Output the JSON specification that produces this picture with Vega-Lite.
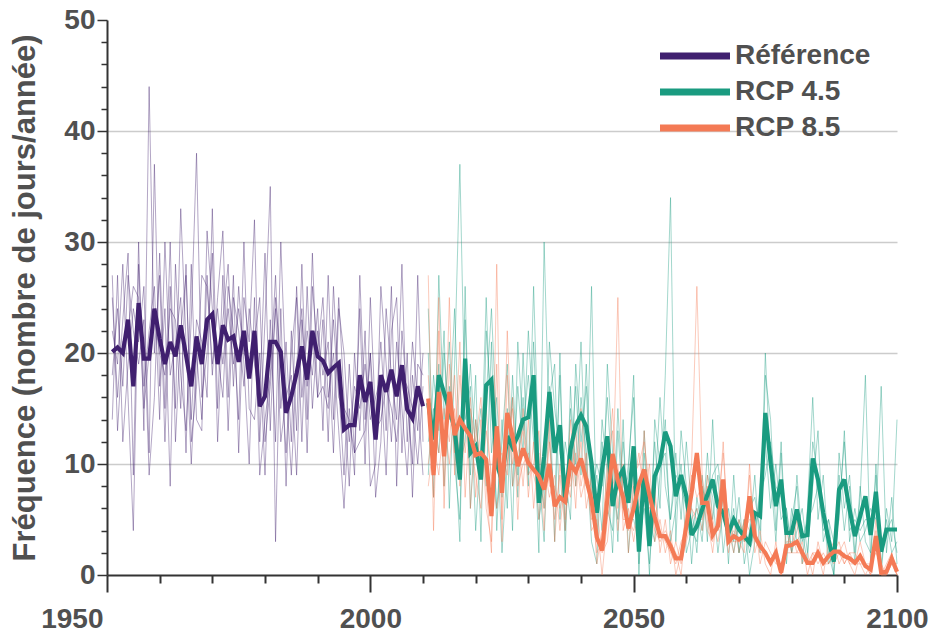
{
"$schema":"https://vega.github.io/schema/vega-lite/v6.json",
"width":790,"height":555,
"autosize":{"type":"none"},
"padding":{"left":107,"top":20,"right":33,"bottom":57},
"background":"white",
"config":{"view":{"stroke":null},"font":"Liberation Sans","line":{"strokeJoin":"miter","strokeMiterLimit":3},"axis":{"labelOverlap":false}},
"datasets":{
"mean":[
{"year":1951,"r":20.1},{"year":1952,"r":20.5},{"year":1953,"r":20},{"year":1954,"r":23},{"year":1955,"r":17},{"year":1956,"r":24.5},{"year":1957,"r":19.5},{"year":1958,"r":19.5},{"year":1959,"r":24},{"year":1960,"r":21.3},
{"year":1961,"r":19},{"year":1962,"r":21},{"year":1963,"r":19.7},{"year":1964,"r":22.5},{"year":1965,"r":19.8},{"year":1966,"r":17},{"year":1967,"r":21.5},{"year":1968,"r":19},{"year":1969,"r":23},{"year":1970,"r":23.5},
{"year":1971,"r":19},{"year":1972,"r":22.5},{"year":1973,"r":21.2},{"year":1974,"r":21.5},{"year":1975,"r":19.2},{"year":1976,"r":22},{"year":1977,"r":17.7},{"year":1978,"r":22},{"year":1979,"r":15.2},{"year":1980,"r":16.1},
{"year":1981,"r":21},{"year":1982,"r":21},{"year":1983,"r":20.1},{"year":1984,"r":14.6},{"year":1985,"r":16.1},{"year":1986,"r":18.2},{"year":1987,"r":20.6},{"year":1988,"r":17.6},{"year":1989,"r":22},{"year":1990,"r":19.7},
{"year":1991,"r":19.3},{"year":1992,"r":18.2},{"year":1993,"r":18.7},{"year":1994,"r":19.1},{"year":1995,"r":13.1},{"year":1996,"r":13.5},{"year":1997,"r":13.5},{"year":1998,"r":18},{"year":1999,"r":15.6},{"year":2000,"r":17.4},
{"year":2001,"r":12.2},{"year":2002,"r":18},{"year":2003,"r":16.5},{"year":2004,"r":18.5},{"year":2005,"r":16.1},{"year":2006,"r":18.9},{"year":2007,"r":14.9},{"year":2008,"r":14.1},{"year":2009,"r":17},{"year":2010,"r":15.2},
{"year":2011,"g":15.5,"o":15.9},{"year":2012,"g":12.2,"o":9},{"year":2013,"g":18,"o":16.5},{"year":2014,"g":16.4,"o":10.7},{"year":2015,"g":14.9,"o":16.5},{"year":2016,"g":13.2,"o":12.6},{"year":2017,"g":8.6,"o":14},{"year":2018,"g":19.5,"o":13.2},{"year":2019,"g":11,"o":12.5},{"year":2020,"g":11.6,"o":10.8},
{"year":2021,"g":8.6,"o":11},{"year":2022,"g":17.1,"o":10.4},{"year":2023,"g":17.6,"o":5.3},{"year":2024,"g":10,"o":13.4},{"year":2025,"g":8.5,"o":7.4},{"year":2026,"g":12.5,"o":14.6},{"year":2027,"g":11.5,"o":12.5},{"year":2028,"g":12.5,"o":9.8},{"year":2029,"g":14,"o":11.4},{"year":2030,"g":14.2,"o":10.1},
{"year":2031,"g":18,"o":9.5},{"year":2032,"g":6.5,"o":8.9},{"year":2033,"g":10.7,"o":7.7},{"year":2034,"g":16.5,"o":10},{"year":2035,"g":11,"o":6.2},{"year":2036,"g":13.5,"o":7},{"year":2037,"g":6.5,"o":6.6},{"year":2038,"g":11.3,"o":10},{"year":2039,"g":13.5,"o":9.3},{"year":2040,"g":14.4,"o":10.5},
{"year":2041,"g":13.4,"o":8.6},{"year":2042,"g":10.1,"o":6.7},{"year":2043,"g":5.6,"o":3.4},{"year":2044,"g":9.5,"o":2.2},{"year":2045,"g":12.5,"o":6.8},{"year":2046,"g":6.2,"o":10.9},{"year":2047,"g":8.7,"o":8.5},{"year":2048,"g":9.5,"o":7},{"year":2049,"g":6.5,"o":4.2},{"year":2050,"g":11.6,"o":6},
{"year":2051,"g":2.1,"o":8.2},{"year":2052,"g":9.5,"o":9.5},{"year":2053,"g":2.6,"o":7.2},{"year":2054,"g":8.9,"o":5.2},{"year":2055,"g":10.1,"o":3.5},{"year":2056,"g":12.9,"o":3.5},{"year":2057,"g":11.6,"o":2.6},{"year":2058,"g":7.1,"o":1.5},{"year":2059,"g":9,"o":1.5},{"year":2060,"g":7.1,"o":4.4},
{"year":2061,"g":3.6,"o":7.4},{"year":2062,"g":4.4,"o":11},{"year":2063,"g":5.9,"o":6.5},{"year":2064,"g":7.2,"o":6.5},{"year":2065,"g":8.6,"o":3.6},{"year":2066,"g":6.2,"o":4.4},{"year":2067,"g":5.6,"o":8.6},{"year":2068,"g":3.8,"o":3},{"year":2069,"g":5,"o":3.5},{"year":2070,"g":4.1,"o":3.2},
{"year":2071,"g":3.5,"o":3.5},{"year":2072,"g":2.9,"o":7.1},{"year":2073,"g":5.6,"o":3.5},{"year":2074,"g":5.3,"o":2.6},{"year":2075,"g":14.6,"o":2},{"year":2076,"g":10.1,"o":1.1},{"year":2077,"g":6.2,"o":2},{"year":2078,"g":8.6,"o":0.2},{"year":2079,"g":3.8,"o":2.6},{"year":2080,"g":3.8,"o":2.7},
{"year":2081,"g":5.9,"o":3},{"year":2082,"g":3.5,"o":2},{"year":2083,"g":3.6,"o":1.1},{"year":2084,"g":10.5,"o":1.1},{"year":2085,"g":8.6,"o":2},{"year":2086,"g":5.6,"o":1.1},{"year":2087,"g":3.2,"o":1.7},{"year":2088,"g":1.2,"o":2.1},{"year":2089,"g":7.7,"o":2.1},{"year":2090,"g":8.6,"o":1.7},
{"year":2091,"g":5.9,"o":1.5},{"year":2092,"g":3.5,"o":1.1},{"year":2093,"g":5.3,"o":1.7},{"year":2094,"g":7.1,"o":0.8},{"year":2095,"g":3.6,"o":0.5},{"year":2096,"g":7.5,"o":3.5},{"year":2097,"g":2.1,"o":0.2},{"year":2098,"g":4.1,"o":0.3},{"year":2099,"g":4.1,"o":1.5},{"year":2100,"g":4.1,"o":0.3}
],
"members":[
{"year":1951,"k":"r","a":25,"b":14,"c":22,"d":18,"e":27},{"year":1952,"k":"r","a":16,"b":27,"c":19,"d":24,"e":13},{"year":1953,"k":"r","a":23,"b":12,"c":28,"d":17,"e":21},{"year":1954,"k":"r","a":29,"b":19,"c":16,"d":27,"e":22},{"year":1955,"k":"r","a":9,"b":24,"c":4,"d":22,"e":26},
{"year":1956,"k":"r","a":30,"b":21,"c":28,"d":19,"e":25},{"year":1957,"k":"r","a":13,"b":26,"c":17,"d":23,"e":15},{"year":1958,"k":"r","a":44,"b":11,"c":22,"d":9,"e":20},{"year":1959,"k":"r","a":20,"b":37,"c":26,"d":16,"e":23},{"year":1960,"k":"r","a":27,"b":17,"c":14,"d":29,"e":20},
{"year":1961,"k":"r","a":12,"b":24,"c":30,"d":15,"e":18},{"year":1962,"k":"r","a":26,"b":8,"c":18,"d":30,"e":24},{"year":1963,"k":"r","a":15,"b":28,"c":21,"d":12,"e":23},{"year":1964,"k":"r","a":33,"b":18,"c":25,"d":22,"e":15},{"year":1965,"k":"r","a":21,"b":13,"c":11,"d":27,"e":28},
{"year":1966,"k":"r","a":10,"b":23,"c":28,"d":14,"e":12},{"year":1967,"k":"r","a":20,"b":38,"c":14,"d":23,"e":17},{"year":1968,"k":"r","a":14,"b":16,"c":13,"d":21,"e":27},{"year":1969,"k":"r","a":27,"b":20,"c":31,"d":16,"e":26},{"year":1970,"k":"r","a":18,"b":29,"c":24,"d":33,"e":19},
{"year":1971,"k":"r","a":25,"b":12,"c":20,"d":15,"e":24},{"year":1972,"k":"r","a":31,"b":23,"c":16,"d":27,"e":19},{"year":1973,"k":"r","a":16,"b":28,"c":26,"d":13,"e":24},{"year":1974,"k":"r","a":27,"b":17,"c":22,"d":25,"e":19},{"year":1975,"k":"r","a":11,"b":26,"c":14,"d":22,"e":24},
{"year":1976,"k":"r","a":25,"b":19,"c":30,"d":17,"e":20},{"year":1977,"k":"r","a":21,"b":10,"c":15,"d":24,"e":19},{"year":1978,"k":"r","a":32,"b":25,"c":14,"d":19,"e":21},{"year":1979,"k":"r","a":12,"b":9,"c":20,"d":16,"e":25},{"year":1980,"k":"r","a":23,"b":14,"c":9,"d":29,"e":12},
{"year":1981,"k":"r","a":35,"b":18,"c":23,"d":13,"e":17},{"year":1982,"k":"r","a":3,"b":27,"c":12,"d":25,"e":24},{"year":1983,"k":"r","a":24,"b":15,"c":30,"d":19,"e":12},{"year":1984,"k":"r","a":8,"b":21,"c":17,"d":11,"e":16},{"year":1985,"k":"r","a":22,"b":12,"c":9,"d":20,"e":18},
{"year":1986,"k":"r","a":13,"b":26,"c":19,"d":25,"e":9},{"year":1987,"k":"r","a":28,"b":16,"c":24,"d":12,"e":23},{"year":1988,"k":"r","a":14,"b":22,"c":11,"d":26,"e":17},{"year":1989,"k":"r","a":29,"b":18,"c":26,"d":15,"e":22},{"year":1990,"k":"r","a":16,"b":24,"c":20,"d":22,"e":16},
{"year":1991,"k":"r","a":23,"b":13,"c":25,"d":18,"e":17},{"year":1992,"k":"r","a":12,"b":27,"c":16,"d":21,"e":15},{"year":1993,"k":"r","a":26,"b":14,"c":20,"d":11,"e":23},{"year":1994,"k":"r","a":17,"b":25,"c":13,"d":24,"e":16},{"year":1995,"k":"r","a":9,"b":16,"c":6,"d":20,"e":15},
{"year":1996,"k":"r","a":19,"b":8,"c":15,"d":12,"e":14},{"year":1997,"k":"r","a":11,"b":20,"c":9,"d":17,"e":11},{"year":1998,"k":"r","a":24,"b":13,"c":27,"d":15,"e":12},{"year":1999,"k":"r","a":10,"b":22,"c":14,"d":19,"e":13},{"year":2000,"k":"r","a":25,"b":8,"c":20,"d":14,"e":20},
{"year":2001,"k":"r","a":14,"b":10,"c":7,"d":16,"e":13},{"year":2002,"k":"r","a":21,"b":26,"c":12,"d":18,"e":14},{"year":2003,"k":"r","a":13,"b":19,"c":24,"d":9,"e":17},{"year":2004,"k":"r","a":26,"b":12,"c":18,"d":22,"e":15},{"year":2005,"k":"r","a":8,"b":21,"c":14,"d":25,"e":12},
{"year":2006,"k":"r","a":22,"b":15,"c":28,"d":11,"e":18},{"year":2007,"k":"r","a":16,"b":9,"c":12,"d":20,"e":17},{"year":2008,"k":"r","a":10,"b":18,"c":21,"d":7,"e":15},{"year":2009,"k":"r","a":27,"b":13,"c":16,"d":19,"e":10},{"year":2010,"k":"r","a":12,"b":20,"c":9,"d":18,"e":17},
{"year":2011,"k":"g","a":20,"b":9,"c":24,"d":12},{"year":2012,"k":"g","a":7,"b":18,"c":10,"d":15},{"year":2013,"k":"g","a":27,"b":13,"c":19,"d":11},{"year":2014,"k":"g","a":14,"b":22,"c":8,"d":20},{"year":2015,"k":"g","a":21,"b":6,"c":17,"d":14},
{"year":2016,"k":"g","a":10,"b":19,"c":12,"d":24},{"year":2017,"k":"g","a":5,"b":37,"c":3,"d":10},{"year":2018,"k":"g","a":23,"b":14,"c":26,"d":12},{"year":2019,"k":"g","a":9,"b":17,"c":6,"d":19},{"year":2020,"k":"g","a":18,"b":4,"c":14,"d":11},
{"year":2021,"k":"g","a":3,"b":12,"c":9,"d":15},{"year":2022,"k":"g","a":22,"b":16,"c":25,"d":8},{"year":2023,"k":"g","a":15,"b":24,"c":11,"d":21},{"year":2024,"k":"g","a":6,"b":13,"c":16,"d":4},{"year":2025,"k":"g","a":12,"b":2,"c":7,"d":14},
{"year":2026,"k":"g","a":19,"b":10,"c":15,"d":6},{"year":2027,"k":"g","a":8,"b":16,"c":4,"d":18},{"year":2028,"k":"g","a":17,"b":7,"c":21,"d":9},{"year":2029,"k":"g","a":11,"b":20,"c":13,"d":16},{"year":2030,"k":"g","a":22,"b":9,"c":18,"d":8},
{"year":2031,"k":"g","a":14,"b":26,"c":12,"d":21},{"year":2032,"k":"g","a":2,"b":10,"c":5,"d":9},{"year":2033,"k":"g","a":30,"b":6,"c":8,"d":3},{"year":2034,"k":"g","a":12,"b":21,"c":17,"d":16},{"year":2035,"k":"g","a":7,"b":15,"c":3,"d":19},
{"year":2036,"k":"g","a":18,"b":11,"c":20,"d":5},{"year":2037,"k":"g","a":4,"b":9,"c":2,"d":12},{"year":2038,"k":"g","a":15,"b":5,"c":17,"d":9},{"year":2039,"k":"g","a":10,"b":19,"c":8,"d":17},{"year":2040,"k":"g","a":21,"b":12,"c":16,"d":9},
{"year":2041,"k":"g","a":8,"b":17,"c":11,"d":19},{"year":2042,"k":"g","a":26,"b":6,"c":3,"d":7},{"year":2043,"k":"g","a":3,"b":9,"c":1,"d":10},{"year":2044,"k":"g","a":14,"b":4,"c":12,"d":8},{"year":2045,"k":"g","a":9,"b":19,"c":6,"d":16},
{"year":2046,"k":"g","a":2,"b":11,"c":4,"d":8},{"year":2047,"k":"g","a":13,"b":3,"c":15,"d":5},{"year":2048,"k":"g","a":6,"b":14,"c":7,"d":12},{"year":2049,"k":"g","a":10,"b":2,"c":9,"d":5},{"year":2050,"k":"g","a":16,"b":8,"c":18,"d":5},
{"year":2051,"k":"g","a":0,"b":4,"c":1,"d":3},{"year":2052,"k":"g","a":13,"b":6,"c":11,"d":8},{"year":2053,"k":"g","a":4,"b":1,"c":5,"d":0},{"year":2054,"k":"g","a":12,"b":7,"c":3,"d":14},{"year":2055,"k":"g","a":6,"b":16,"c":9,"d":10},
{"year":2056,"k":"g","a":18,"b":8,"c":14,"d":11},{"year":2057,"k":"g","a":34,"b":5,"c":3,"d":5},{"year":2058,"k":"g","a":3,"b":11,"c":6,"d":9},{"year":2059,"k":"g","a":13,"b":5,"c":10,"d":8},{"year":2060,"k":"g","a":8,"b":12,"c":2,"d":6},
{"year":2061,"k":"g","a":1,"b":6,"c":4,"d":4},{"year":2062,"k":"g","a":7,"b":2,"c":6,"d":3},{"year":2063,"k":"g","a":4,"b":9,"c":3,"d":8},{"year":2064,"k":"g","a":11,"b":3,"c":9,"d":6},{"year":2065,"k":"g","a":5,"b":14,"c":7,"d":9},
{"year":2066,"k":"g","a":9,"b":4,"c":2,"d":10},{"year":2067,"k":"g","a":2,"b":8,"c":6,"d":6},{"year":2068,"k":"g","a":6,"b":1,"c":5,"d":3},{"year":2069,"k":"g","a":3,"b":9,"c":2,"d":6},{"year":2070,"k":"g","a":7,"b":2,"c":5,"d":2},
{"year":2071,"k":"g","a":1,"b":5,"c":3,"d":5},{"year":2072,"k":"g","a":4,"b":0,"c":6,"d":2},{"year":2073,"k":"g","a":9,"b":3,"c":7,"d":4},{"year":2074,"k":"g","a":2,"b":8,"c":4,"d":7},{"year":2075,"k":"g","a":18,"b":12,"c":20,"d":9},
{"year":2076,"k":"g","a":14,"b":6,"c":9,"d":12},{"year":2077,"k":"g","a":4,"b":10,"c":3,"d":8},{"year":2078,"k":"g","a":12,"b":5,"c":11,"d":7},{"year":2079,"k":"g","a":2,"b":6,"c":1,"d":6},{"year":2080,"k":"g","a":5,"b":2,"c":6,"d":2},
{"year":2081,"k":"g","a":8,"b":4,"c":3,"d":9},{"year":2082,"k":"g","a":1,"b":6,"c":4,"d":3},{"year":2083,"k":"g","a":6,"b":2,"c":1,"d":5},{"year":2084,"k":"g","a":16,"b":8,"c":12,"d":6},{"year":2085,"k":"g","a":5,"b":13,"c":9,"d":8},
{"year":2086,"k":"g","a":9,"b":3,"c":6,"d":4},{"year":2087,"k":"g","a":2,"b":5,"c":1,"d":5},{"year":2088,"k":"g","a":0,"b":3,"c":2,"d":0},{"year":2089,"k":"g","a":11,"b":5,"c":9,"d":6},{"year":2090,"k":"g","a":6,"b":13,"c":4,"d":12},
{"year":2091,"k":"g","a":9,"b":3,"c":8,"d":4},{"year":2092,"k":"g","a":2,"b":6,"c":1,"d":5},{"year":2093,"k":"g","a":7,"b":3,"c":8,"d":4},{"year":2094,"k":"g","a":18,"b":4,"c":3,"d":5},{"year":2095,"k":"g","a":1,"b":6,"c":2,"d":5},
{"year":2096,"k":"g","a":10,"b":5,"c":9,"d":6},{"year":2097,"k":"g","a":0,"b":17,"c":1,"d":3},{"year":2098,"k":"g","a":6,"b":2,"c":5,"d":4},{"year":2099,"k":"g","a":3,"b":7,"c":2,"d":5},{"year":2100,"k":"g","a":14,"b":1,"c":3,"d":2},
{"year":2011,"k":"o","a":27,"b":10,"c":18,"d":8},{"year":2012,"k":"o","a":4,"b":14,"c":7,"d":12},{"year":2013,"k":"o","a":22,"b":11,"c":25,"d":9},{"year":2014,"k":"o","a":8,"b":15,"c":6,"d":14},{"year":2015,"k":"o","a":25,"b":12,"c":19,"d":10},
{"year":2016,"k":"o","a":9,"b":18,"c":11,"d":15},{"year":2017,"k":"o","a":18,"b":8,"c":21,"d":10},{"year":2018,"k":"o","a":11,"b":19,"c":7,"d":16},{"year":2019,"k":"o","a":16,"b":6,"c":15,"d":12},{"year":2020,"k":"o","a":7,"b":14,"c":12,"d":9},
{"year":2021,"k":"o","a":14,"b":9,"c":16,"d":6},{"year":2022,"k":"o","a":6,"b":15,"c":8,"d":13},{"year":2023,"k":"o","a":3,"b":8,"c":2,"d":9},{"year":2024,"k":"o","a":19,"b":10,"c":28,"d":6},{"year":2025,"k":"o","a":5,"b":11,"c":3,"d":9},
{"year":2026,"k":"o","a":22,"b":9,"c":18,"d":10},{"year":2027,"k":"o","a":10,"b":16,"c":8,"d":15},{"year":2028,"k":"o","a":13,"b":5,"c":11,"d":8},{"year":2029,"k":"o","a":8,"b":15,"c":13,"d":10},{"year":2030,"k":"o","a":14,"b":7,"c":9,"d":11},
{"year":2031,"k":"o","a":6,"b":12,"c":10,"d":9},{"year":2032,"k":"o","a":11,"b":5,"c":13,"d":7},{"year":2033,"k":"o","a":4,"b":10,"c":6,"d":11},{"year":2034,"k":"o","a":14,"b":7,"c":12,"d":8},{"year":2035,"k":"o","a":3,"b":9,"c":5,"d":8},
{"year":2036,"k":"o","a":10,"b":4,"c":9,"d":6},{"year":2037,"k":"o","a":5,"b":9,"c":4,"d":8},{"year":2038,"k":"o","a":14,"b":7,"c":12,"d":8},{"year":2039,"k":"o","a":8,"b":13,"c":6,"d":11},{"year":2040,"k":"o","a":12,"b":8,"c":15,"d":7},
{"year":2041,"k":"o","a":6,"b":11,"c":9,"d":9},{"year":2042,"k":"o","a":9,"b":4,"c":8,"d":5},{"year":2043,"k":"o","a":1,"b":5,"c":2,"d":6},{"year":2044,"k":"o","a":4,"b":0,"c":3,"d":2},{"year":2045,"k":"o","a":9,"b":5,"c":10,"d":3},
{"year":2046,"k":"o","a":15,"b":8,"c":13,"d":8},{"year":2047,"k":"o","a":6,"b":25,"c":4,"d":10},{"year":2048,"k":"o","a":10,"b":4,"c":9,"d":5},{"year":2049,"k":"o","a":2,"b":6,"c":4,"d":5},{"year":2050,"k":"o","a":8,"b":3,"c":9,"d":4},
{"year":2051,"k":"o","a":11,"b":6,"c":10,"d":6},{"year":2052,"k":"o","a":7,"b":13,"c":12,"d":7},{"year":2053,"k":"o","a":10,"b":5,"c":8,"d":6},{"year":2054,"k":"o","a":3,"b":8,"c":4,"d":7},{"year":2055,"k":"o","a":5,"b":2,"c":3,"d":4},
{"year":2056,"k":"o","a":2,"b":5,"c":4,"d":3},{"year":2057,"k":"o","a":4,"b":1,"c":3,"d":2},{"year":2058,"k":"o","a":0,"b":3,"c":2,"d":1},{"year":2059,"k":"o","a":2,"b":1,"c":0,"d":3},{"year":2060,"k":"o","a":6,"b":3,"c":5,"d":4},
{"year":2061,"k":"o","a":10,"b":5,"c":9,"d":6},{"year":2062,"k":"o","a":26,"b":6,"c":7,"d":5},{"year":2063,"k":"o","a":9,"b":4,"c":8,"d":5},{"year":2064,"k":"o","a":5,"b":9,"c":4,"d":8},{"year":2065,"k":"o","a":2,"b":5,"c":3,"d":4},
{"year":2066,"k":"o","a":6,"b":3,"c":5,"d":4},{"year":2067,"k":"o","a":11,"b":6,"c":12,"d":6},{"year":2068,"k":"o","a":4,"b":2,"c":3,"d":3},{"year":2069,"k":"o","a":2,"b":5,"c":4,"d":3},{"year":2070,"k":"o","a":5,"b":2,"c":3,"d":3},
{"year":2071,"k":"o","a":3,"b":4,"c":2,"d":5},{"year":2072,"k":"o","a":9,"b":5,"c":10,"d":4},{"year":2073,"k":"o","a":2,"b":5,"c":3,"d":4},{"year":2074,"k":"o","a":4,"b":1,"c":3,"d":2},{"year":2075,"k":"o","a":1,"b":3,"c":2,"d":2},
{"year":2076,"k":"o","a":0,"b":2,"c":1,"d":1},{"year":2077,"k":"o","a":3,"b":1,"c":2,"d":2},{"year":2078,"k":"o","a":0,"b":1,"c":0,"d":0},{"year":2079,"k":"o","a":4,"b":2,"c":3,"d":2},{"year":2080,"k":"o","a":2,"b":4,"c":3,"d":2},
{"year":2081,"k":"o","a":5,"b":2,"c":3,"d":2},{"year":2082,"k":"o","a":1,"b":3,"c":2,"d":2},{"year":2083,"k":"o","a":2,"b":0,"c":1,"d":1},{"year":2084,"k":"o","a":0,"b":2,"c":1,"d":2},{"year":2085,"k":"o","a":3,"b":1,"c":2,"d":2},
{"year":2086,"k":"o","a":1,"b":2,"c":0,"d":1},{"year":2087,"k":"o","a":2,"b":1,"c":3,"d":1},{"year":2088,"k":"o","a":3,"b":2,"c":1,"d":2},{"year":2089,"k":"o","a":1,"b":3,"c":2,"d":2},{"year":2090,"k":"o","a":2,"b":1,"c":3,"d":1},
{"year":2091,"k":"o","a":1,"b":2,"c":1,"d":2},{"year":2092,"k":"o","a":0,"b":2,"c":1,"d":1},{"year":2093,"k":"o","a":2,"b":1,"c":3,"d":1},{"year":2094,"k":"o","a":1,"b":0,"c":1,"d":1},{"year":2095,"k":"o","a":0,"b":1,"c":0,"d":1},
{"year":2096,"k":"o","a":5,"b":2,"c":4,"d":3},{"year":2097,"k":"o","a":0,"b":1,"c":0,"d":0},{"year":2098,"k":"o","a":1,"b":0,"c":0,"d":0},{"year":2099,"k":"o","a":2,"b":1,"c":2,"d":1},{"year":2100,"k":"o","a":0,"b":1,"c":0,"d":0}
]
},
"layer":[
{"data":{"name":"members"},
 "transform":[{"fold":["a","b","c","d","e"],"as":["m","v"]},{"filter":{"field":"v","valid":true}}],
 "mark":{"type":"line","strokeWidth":1,"opacity":0.4},
 "encoding":{
  "x":{"field":"year","type":"quantitative","scale":{"domain":[1950,2100],"nice":false,"zero":false},
   "axis":{"title":null,"values":[1950,1960,1970,1980,1990,2000,2010,2020,2030,2040,2050,2060,2070,2080,2090,2100],"format":"d",
    "labelExpr":"datum.value % 50 === 0 ? datum.label : ''","labelFlush":false,"labelOverlap":false,
    "labelAlign":{"condition":{"test":"datum.value === 1950","value":"right"},"value":"center"},
    "labelOffset":{"condition":{"test":"datum.value === 1950","value":-4},"value":0},
    "tickSize":{"condition":{"test":"datum.value % 50 === 0","value":17},"value":8},
    "labelPadding":13,"labelFontSize":28,"labelFontWeight":"bold","labelColor":"#505050",
    "domainColor":"#333333","domainWidth":2,"tickColor":"#333333","tickWidth":2,"grid":false}},
  "y":{"field":"v","type":"quantitative","scale":{"domain":[0,50],"nice":false},
   "axis":{"title":"Fréquence (nombre de jours/année)","values":[0,2,4,6,8,10,12,14,16,18,20,22,24,26,28,30,32,34,36,38,40,42,44,46,48,50],
    "labelExpr":"datum.value % 10 === 0 ? datum.label : ''","labelOverlap":false,
    "tickSize":{"condition":{"test":"datum.value % 10 === 0","value":10},"value":6},
    "labelPadding":2,"grid":true,"gridColor":"#cccccc","gridWidth":1.5,
    "gridOpacity":{"condition":{"test":"datum.value % 10 === 0 && datum.value > 0 && datum.value < 50","value":1},"value":0},
    "labelFontSize":28,"labelFontWeight":"bold","labelColor":"#505050",
    "domainColor":"#333333","domainWidth":2,"tickColor":"#333333","tickWidth":1.5,
    "titleFontSize":31,"titleFontWeight":"bold","titleColor":"#505050","titlePadding":22}},
  "stroke":{"field":"k","type":"nominal","scale":{"domain":["o","g","r"],"range":["#f47a55","#1a9b80","#40206f"]},"legend":null},
  "detail":[{"field":"k"},{"field":"m"}]
 }},
{"data":{"name":"mean"},
 "transform":[{"fold":["r","g","o"],"as":["s","v"]},{"filter":{"field":"v","valid":true}}],
 "mark":{"type":"line","strokeWidth":4.2},
 "encoding":{
  "x":{"field":"year","type":"quantitative",
   "axis":{"title":null,"values":[1950,1960,1970,1980,1990,2000,2010,2020,2030,2040,2050,2060,2070,2080,2090,2100],"format":"d",
    "labelExpr":"datum.value % 50 === 0 ? datum.label : ''","labelFlush":false,"labelOverlap":false,
    "labelAlign":{"condition":{"test":"datum.value === 1950","value":"right"},"value":"center"},
    "labelOffset":{"condition":{"test":"datum.value === 1950","value":-4},"value":0},
    "tickSize":{"condition":{"test":"datum.value % 50 === 0","value":17},"value":8},
    "labelPadding":13,"labelFontSize":28,"labelFontWeight":"bold","labelColor":"#505050",
    "domainColor":"#333333","domainWidth":2,"tickColor":"#333333","tickWidth":2,"grid":false}},
  "y":{"field":"v","type":"quantitative",
   "axis":{"title":"Fréquence (nombre de jours/année)","values":[0,2,4,6,8,10,12,14,16,18,20,22,24,26,28,30,32,34,36,38,40,42,44,46,48,50],
    "labelExpr":"datum.value % 10 === 0 ? datum.label : ''","labelOverlap":false,
    "tickSize":{"condition":{"test":"datum.value % 10 === 0","value":10},"value":6},
    "labelPadding":2,"grid":true,"gridColor":"#cccccc","gridWidth":1.5,
    "gridOpacity":{"condition":{"test":"datum.value % 10 === 0 && datum.value > 0 && datum.value < 50","value":1},"value":0},
    "labelFontSize":28,"labelFontWeight":"bold","labelColor":"#505050",
    "domainColor":"#333333","domainWidth":2,"tickColor":"#333333","tickWidth":1.5,
    "titleFontSize":31,"titleFontWeight":"bold","titleColor":"#505050","titlePadding":22}},
  "color":{"field":"s","type":"nominal","scale":{"domain":["r","g","o"],"range":["#40206f","#1a9b80","#f47a55"]},
   "legend":{"orient":"none","legendX":602,"legendY":22,"title":null,"padding":0,
    "symbolType":"M-9,0H1","symbolSize":196,"symbolStrokeWidth":7,"symbolOpacity":1,
    "labelFontSize":28,"labelFontWeight":"bold","labelColor":"#505050","labelOffset":-2,"rowPadding":8,
    "labelExpr":"datum.label === 'r' ? 'Référence' : datum.label === 'g' ? 'RCP 4.5' : 'RCP 8.5'"}}
 }}
]
}
